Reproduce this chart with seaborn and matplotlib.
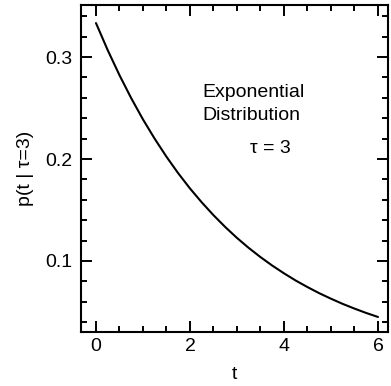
import matplotlib
matplotlib.use("Agg")
import matplotlib.pyplot as plt
from matplotlib.ticker import MultipleLocator
import seaborn as sns

# values
t_values = [0.0, 0.25, 0.5, 0.75, 1.0, 1.25, 1.5, 1.75, 2.0, 2.25, 2.5, 2.75, 3.0,
            3.25, 3.5, 3.75, 4.0, 4.25, 4.5, 4.75, 5.0, 5.25, 5.5, 5.75, 6.0]
p_values = [0.3333, 0.3067, 0.2822, 0.2596, 0.2388, 0.2198, 0.2022, 0.1860, 0.1711,
            0.1575, 0.1449, 0.1333, 0.1226, 0.1128, 0.1038, 0.0955, 0.0879, 0.0808,
            0.0744, 0.0684, 0.0630, 0.0579, 0.0533, 0.0490, 0.0451]
x_ticks = [0, 2, 4, 6]
y_ticks = [0.1, 0.2, 0.3]

sns.set_style("ticks")
plt.rcParams['font.family'] = ['Liberation Sans', 'DejaVu Sans']
plt.rcParams['text.color'] = 'black'
plt.rcParams['axes.labelcolor'] = 'black'

fig = plt.figure(figsize=(3.91, 3.86), dpi=100)
ax = fig.add_axes([0.207, 0.140, 0.785, 0.847])

sns.lineplot(x=t_values, y=p_values, ax=ax, color='black', linewidth=1.5)

ax.set_xlim(-0.32, 6.21)
ax.set_ylim(0.0304, 0.351)
ax.set_xticks(x_ticks)
ax.set_yticks(y_ticks)
ax.set_yticklabels([f"{v:.1f}" for v in y_ticks])
ax.xaxis.set_minor_locator(MultipleLocator(0.5))
ax.yaxis.set_minor_locator(MultipleLocator(0.02))

ax.tick_params(which='both', direction='in', top=True, right=True,
               labeltop=False, labelright=False, width=1.4, colors='black',
               labelsize=14)
ax.tick_params(which='major', length=8)
ax.tick_params(which='minor', length=4.5)
ax.tick_params(axis='x', which='major', pad=4.5)
ax.tick_params(axis='y', which='major', pad=6.5)
for side in ax.spines.values():
    side.set_linewidth(1.5)
    side.set_color('black')

ax.set_xlabel('t', fontsize=14, labelpad=8, color='black')
ax.set_ylabel('p(t | τ=3)', fontsize=14, labelpad=8, color='black')

ax.text(2.26, 0.261, 'Exponential', fontsize=14, ha='left', va='baseline', color='black')
ax.text(2.26, 0.2382, 'Distribution', fontsize=14, ha='left', va='baseline', color='black')
ax.text(3.28, 0.2062, 'τ = 3', fontsize=14, ha='left', va='baseline', color='black')

fig.savefig('out.png', dpi=100)
